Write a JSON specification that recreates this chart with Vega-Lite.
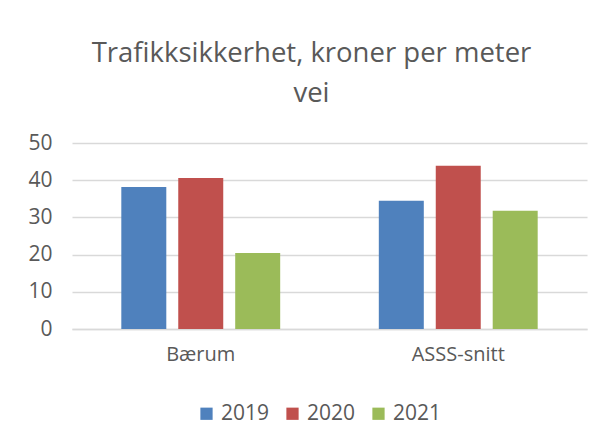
{
  "$schema": "https://vega.github.io/schema/vega-lite/v6.json",
  "autosize": "none",
  "width": 515,
  "height": 186,
  "padding": {"left": 72, "top": 143, "right": 24, "bottom": 114},
  "background": "white",
  "title": {
    "text": ["Trafikksikkerhet, kroner per meter", "vei"],
    "font": "Open Sans",
    "fontSize": 27.5,
    "fontWeight": "normal",
    "color": "#595959",
    "lineHeight": 40,
    "anchor": "middle",
    "frame": "group",
    "dx": -18,
    "offset": 25
  },
  "data": {
    "values": [
      {"kategori": "Bærum", "år": "2019", "verdi": 38.2},
      {"kategori": "Bærum", "år": "2020", "verdi": 40.6},
      {"kategori": "Bærum", "år": "2021", "verdi": 20.4},
      {"kategori": "ASSS-snitt", "år": "2019", "verdi": 34.5},
      {"kategori": "ASSS-snitt", "år": "2020", "verdi": 43.9},
      {"kategori": "ASSS-snitt", "år": "2021", "verdi": 31.8}
    ]
  },
  "mark": {"type": "bar"},
  "encoding": {
    "x": {
      "field": "kategori",
      "type": "nominal",
      "sort": ["Bærum", "ASSS-snitt"],
      "scale": {"paddingInner": 0.383, "paddingOuter": 0.1915},
      "axis": {
        "title": null,
        "labelAngle": 0,
        "labelFont": "Open Sans",
        "labelFontSize": 20,
        "labelColor": "#595959",
        "labelPadding": 15,
        "ticks": false,
        "domainColor": "#D9D9D9",
        "domainWidth": 1.3
      }
    },
    "xOffset": {
      "field": "år",
      "type": "nominal",
      "scale": {"paddingInner": 0.21, "paddingOuter": 0}
    },
    "y": {
      "field": "verdi",
      "type": "quantitative",
      "scale": {"domain": [0, 50], "nice": false},
      "axis": {
        "title": null,
        "values": [0, 10, 20, 30, 40, 50],
        "labelFont": "Open Sans",
        "labelFontSize": 21,
        "labelColor": "#595959",
        "labelPadding": 20,
        "ticks": false,
        "domain": false,
        "gridColor": "#D9D9D9",
        "gridWidth": 1.3
      }
    },
    "color": {
      "field": "år",
      "type": "nominal",
      "scale": {"domain": ["2019", "2020", "2021"], "range": ["#4F81BD", "#C0504D", "#9BBB59"]},
      "legend": {
        "title": null,
        "orient": "none",
        "direction": "horizontal",
        "legendX": 124,
        "legendY": 260,
        "symbolType": "square",
        "symbolSize": 150,
        "symbolStrokeWidth": 0,
        "labelFont": "Open Sans",
        "labelFontSize": 21,
        "labelColor": "#595959",
        "labelOffset": 4,
        "columnPadding": 12
      }
    }
  },
  "config": {"view": {"stroke": null}}
}
